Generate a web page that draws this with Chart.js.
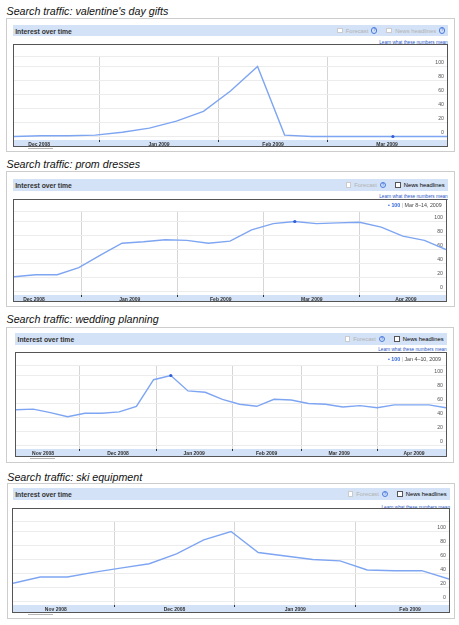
<!DOCTYPE html>
<html>
<head>
<meta charset="utf-8">
<script src="https://cdn.jsdelivr.net/npm/chart.js"></script>
<style>
body { margin: 0; width: 459px; height: 625px; background: #fff; position: relative; overflow: hidden;
       font-family: 'Liberation Sans', Arial, sans-serif; }
.abs { position: absolute; }
.title { font-style: italic; font-size: 10.7px; line-height: 10.7px; color: #111; white-space: nowrap; }
.outer { border: 1px solid #cdcdcd; box-sizing: border-box; }
.head { background: #d3e2f6; }
.head .lbl { position: absolute; left: 2.5px; top: 50%; transform: translateY(-50%);
             font-weight: bold; font-size: 6.8px; color: #333; white-space: nowrap; }
.opts { position: absolute; right: 3px; top: 0; height: 100%; display: flex; align-items: center;
        font-size: 5.8px; color: #000; white-space: nowrap; }
.opt { display: flex; align-items: center; margin-left: 9px; }
.cb { width: 3.7px; height: 3.7px; border: 1px solid #555; background: #fff; margin-right: 3px; }
.opt.off { color: #b2b2b2; }
.opt.off .cb { border-color: #cbcbcb; }
.q { width: 4.2px; height: 4.2px; border: 0.7px solid #4a7be0; border-radius: 50%; margin-left: 3px;
     font-size: 4px; line-height: 4.2px; text-align: center; color: #4a7be0; font-weight: bold; }
.learn { font-size: 4.7px; line-height: 5px; color: #2a56c6; text-decoration: underline; white-space: nowrap; }
.plot { border: 1px solid #555; box-sizing: border-box; background: #fff; }
.plot canvas { position: absolute; left: 0; top: 0; }
.leg { font-size: 5.3px; line-height: 6px; color: #444; white-space: nowrap; }
.leg .b { color: #3366dd; font-weight: bold; }
.leg .s { color: #aaa; }
.tab { height: 1px; background: #b5b5b5; }
</style>
</head>
<body>
<script>
// month tick labels and the first day of each month, in days from 1 Jan 2009
const monthLabels = ['Nov 2008', 'Dec 2008', 'Jan 2009', 'Feb 2009', 'Mar 2009', 'Apr 2009', 'May 2009'];
const monthStarts = [-61, -31, 0, 31, 59, 90, 120];
const yTicks = [0, 20, 40, 60, 80, 100];

// weekly search interest, one value per week
const valentineValues = [0, 1, 1, 2, 6, 12, 22, 36, 65, 100, 2, 0, 0, 0, 0, 0, 0];
const promValues = [21, 24, 24, 34, 52, 69, 71, 74, 73, 69, 72, 88, 97, 100, 97, 98, 99, 92, 79, 73, 60];
const weddingValues = [51, 52, 47, 41, 46, 46, 48, 56, 94, 100, 78, 76, 66, 59, 56, 66, 65, 60, 59, 55, 57, 54, 58, 58, 58, 54];
const skiValues = [26, 35, 35, 42, 48, 54, 68, 88, 100, 70, 65, 60, 58, 45, 44, 44, 32];

// middle of the first week shown, days from 1 Jan 2009
const valentineFirstWeek = -22; // Dec 10, 2008
const promFirstWeek = -22;
const weddingFirstWeek = -57;   // Nov 5, 2008
const skiFirstWeek = -57;

const FONT = "'Liberation Sans', Arial, sans-serif";

// light blue strip behind the month labels
const bandPlugin = {
    id: 'band',
    beforeDraw(chart) {
        const x = chart.scales.x;
        const ctx = chart.ctx;
        ctx.save();
        ctx.fillStyle = '#d3e2f6';
        ctx.fillRect(x.left, x.top, x.right - x.left, x.bottom - x.top);
        ctx.restore();
    }
};

function div(cls, css, html) {
    const d = document.createElement('div');
    d.className = 'abs ' + cls;
    Object.assign(d.style, css);
    if (html) d.innerHTML = html;
    document.body.appendChild(d);
    return d;
}

function px(v) { return v + 'px'; }

function buildPanel(p) {
    div('title', { left: px(p.titleX), top: px(p.titleTop) }, p.title);
    div('outer', { left: px(p.outer[0]), top: px(p.outer[1]), width: px(p.outer[2]), height: px(p.outer[3]) });

    const head = div('head', { left: px(p.head[0]), top: px(p.head[1]), width: px(p.head[2]), height: px(p.head[3]) });
    head.innerHTML = '<div class="lbl">Interest over time</div>' +
        '<div class="opts">' +
        '<div class="opt off"><div class="cb"></div>Forecast<div class="q">?</div></div>' +
        '<div class="opt' + (p.newsOn ? '' : ' off') + '"><div class="cb"></div>News headlines' +
        (p.newsOn ? '' : '<div class="q">?</div>') + '</div></div>';

    div('learn', { right: px(459 - p.learn[0]), top: px(p.learn[1] - 2.5) }, 'Learn what these numbers mean');

    const box = div('plot', { left: px(p.plot[0]), top: px(p.plot[1]), width: px(p.plot[2]), height: px(p.plot[3]) });
    const canvas = document.createElement('canvas');
    canvas.width = p.plot[2] - 2;
    canvas.height = p.plot[3] - 2;
    box.appendChild(canvas);

    if (p.legend) {
        div('leg', { right: px(459 - p.legend[0]), top: px(p.legend[1] - 3) },
            '<span class="b">&bull; 100</span> <span class="s">|</span> ' + p.legend[2]);
    }
    if (p.tab) div('tab', { left: px(p.tab[0]), top: px(p.tab[1]), width: px(p.tab[2]) });

    makeChart(canvas, p.values, p.firstWeek, p.marked, p.pad, p.band);
}

function makeChart(canvas, values, firstWeek, marked, pad, band) {
    const points = values.map((v, i) => ({ x: firstWeek + 7 * i, y: v }));
    const xMin = points[0].x;
    const xMax = points[points.length - 1].x;

    const starts = monthStarts.filter(d => d > xMin && d < xMax);
    const mids = new Map();
    monthLabels.forEach((m, i) => {
        if (i + 1 >= monthStarts.length) return;
        const mid = (monthStarts[i] + monthStarts[i + 1]) / 2;
        if (mid > xMin && mid < xMax) mids.set(mid, m);
    });
    const xTicks = starts.concat([...mids.keys()]).sort((a, b) => a - b);
    const isStart = c => c.tick && starts.includes(c.tick.value);

    new Chart(canvas, {
        type: 'line',
        data: {
            datasets: [{
                data: points,
                borderColor: '#7ea5f2',
                borderWidth: 1.4,
                tension: 0,
                pointRadius: c => c.dataIndex === marked ? 1.6 : 0,
                pointBackgroundColor: '#2f5fd4',
                pointBorderWidth: 0
            }]
        },
        options: {
            responsive: false,
            animation: false,
            devicePixelRatio: 1,
            events: [],
            layout: { padding: { top: pad, left: 0, right: 0, bottom: 0 } },
            plugins: { legend: { display: false }, tooltip: { enabled: false } },
            scales: {
                x: {
                    type: 'linear',
                    min: xMin,
                    max: xMax,
                    afterBuildTicks: s => { s.ticks = xTicks.map(v => ({ value: v })); },
                    afterFit: s => { s.height = band; },
                    border: { display: false },
                    grid: {
                        color: c => isStart(c) ? '#d6d6d6' : 'rgba(0,0,0,0)',
                        tickColor: c => isStart(c) ? '#333' : 'rgba(0,0,0,0)',
                        tickLength: 2
                    },
                    ticks: {
                        autoSkip: false, maxRotation: 0, minRotation: 0, padding: 0,
                        color: '#333',
                        font: { family: FONT, size: 5, weight: 'bold' },
                        callback: v => mids.get(v) || ''
                    }
                },
                y: {
                    position: 'right',
                    min: -5,
                    max: 115,
                    afterBuildTicks: s => { s.ticks = yTicks.concat([115]).map(v => ({ value: v })); },
                    afterFit: s => { s.width = 0; },
                    border: { display: false },
                    grid: { color: '#ececec', drawTicks: false },
                    ticks: {
                        mirror: true, padding: -3, labelOffset: -3.5,
                        color: '#555',
                        font: { family: FONT, size: 5.2 },
                        callback: v => yTicks.includes(v) ? String(v) : ''
                    }
                }
            }
        },
        plugins: [bandPlugin]
    });
}

const panels = [
    { title: "Search traffic: valentine's day gifts", titleX: 6.5, titleTop: 5.6,
      outer: [6, 18, 449, 134], head: [12.7, 25, 435.6, 11], learn: [447.7, 42.3],
      plot: [13, 44, 435, 103], pad: 11, band: 6, newsOn: false, legend: null, tab: [28, 148, 25],
      values: valentineValues, firstWeek: valentineFirstWeek, marked: 14 },
    { title: 'Search traffic: prom dresses', titleX: 6.5, titleTop: 159.2,
      outer: [6, 171, 449, 136], head: [12.7, 179, 435, 11.7], learn: [447.7, 196.3],
      plot: [13, 199, 434, 103], pad: 11, band: 6, newsOn: true, legend: [441.7, 205, 'Mar 8\u201314, 2009'], tab: null,
      values: promValues, firstWeek: promFirstWeek, marked: 13 },
    { title: 'Search traffic: wedding planning', titleX: 6.5, titleTop: 314.2,
      outer: [6, 326.7, 448, 136], head: [15, 332.7, 431.7, 12], learn: [446.7, 349.5],
      plot: [15, 352, 432, 105], pad: 12, band: 7, newsOn: true, legend: [441, 359, 'Jan 4\u201310, 2009'], tab: [30, 457.5, 25],
      values: weddingValues, firstWeek: weddingFirstWeek, marked: 9 },
    { title: 'Search traffic: ski equipment', titleX: 7.3, titleTop: 471.9,
      outer: [7, 483.3, 448, 136], head: [12.7, 488.3, 437, 11.7], learn: [450, 507],
      plot: [12, 508, 438, 105], pad: 12, band: 7, newsOn: true, legend: null, tab: [28.3, 613.5, 25],
      values: skiValues, firstWeek: skiFirstWeek, marked: -1 }
];

panels.forEach(buildPanel);
</script>
</body>
</html>
